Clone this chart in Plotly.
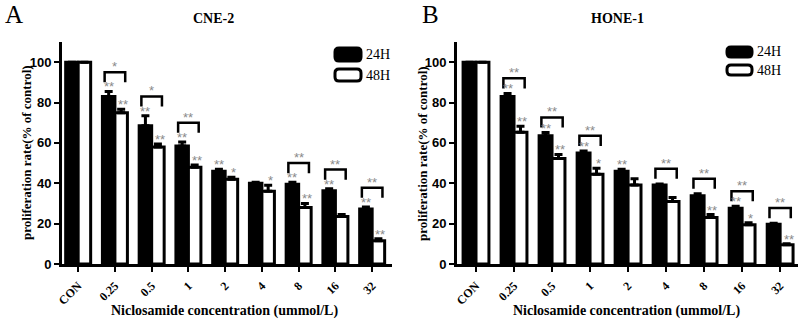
import plotly.graph_objects as go

# ---------------- data ----------------
conc = ["CON", "0.25", "0.5", "1", "2", "4", "8", "16", "32"]

a24 = [100, 83, 68.5, 58.5, 46, 40, 39.5, 36.3, 27.3]
a24_err = [0, 2.5, 5, 2, 1, 0.5, 1, 1, 1]
a48 = [100, 75, 58, 48, 42, 36, 28, 23.5, 11.5]
a48_err = [0, 1.7, 1.5, 1, 1, 3, 2, 1, 1]
a24_sig = ["", "**", "**", "**", "**", "", "**", "**", "**"]
a48_sig = ["", "**", "**", "**", "*", "*", "**", "", "**"]
a_pair = ["", "*", "*", "**", "", "", "**", "**", "**"]

b24 = [100, 83, 63.6, 55, 46, 39.2, 33.8, 27.6, 19.7]
b24_err = [0, 1.5, 1.5, 1, 1, 0.5, 1, 1, 0.5]
b48 = [100, 65.3, 52.3, 44.5, 39.2, 31, 23, 19.5, 9.5]
b48_err = [0, 3, 2, 3, 3, 2, 1.5, 1, 0.5]
b24_sig = ["", "**", "**", "**", "**", "", "", "**", ""]
b48_sig = ["", "**", "**", "*", "", "", "**", "*", "**"]
b_pair = ["", "**", "**", "**", "", "**", "**", "**", "**"]

series_names = ["24H", "48H"]
x_title = "Niclosamide concentration (ummol/L)"
y_title = "proliferation rate(% of control)"

# ---------------- figure ----------------
W, H = 805, 319
SERIF = "Liberation Serif, Times New Roman, serif"
SANS = "Liberation Sans, Arial, sans-serif"
STAR = "#8a8a8a"
BW = 0.34


def px(x):
    return x / W


def py(y):
    return 1 - y / H


fig = go.Figure()

panels = [
    dict(v24=a24, e24=a24_err, v48=a48, e48=a48_err, s24=a24_sig, s48=a48_sig,
         pair=a_pair, xa="x", ya="y", off=9.5),
    dict(v24=b24, e24=b24_err, v48=b48, e48=b48_err, s24=b24_sig, s48=b48_sig,
         pair=b_pair, xa="x2", ya="y2", off=7.5),
]

xs = list(range(len(conc)))
annotations = []
shapes = []

for p in panels:
    fig.add_trace(go.Bar(
        x=xs, y=p["v24"], name=series_names[0], width=BW, offset=-BW,
        marker=dict(color="black", line=dict(color="black", width=3)),
        error_y=dict(type="data", array=p["e24"], arrayminus=[0] * len(xs),
                     symmetric=False, color="black", thickness=3, width=4),
        xaxis=p["xa"], yaxis=p["ya"], showlegend=False))
    fig.add_trace(go.Bar(
        x=xs, y=p["v48"], name=series_names[1], width=BW, offset=0,
        marker=dict(color="white", line=dict(color="black", width=3)),
        error_y=dict(type="data", array=p["e48"], arrayminus=[0] * len(xs),
                     symmetric=False, color="black", thickness=3, width=4),
        xaxis=p["xa"], yaxis=p["ya"], showlegend=False))
    for i in xs:
        t24 = p["v24"][i] + p["e24"][i]
        t48 = p["v48"][i] + p["e48"][i]
        if p["s24"][i]:
            annotations.append(dict(x=i - BW / 2, y=t24, xref=p["xa"], yref=p["ya"],
                                    text=p["s24"][i], showarrow=False, yanchor="bottom",
                                    xanchor="center", yshift=-5,
                                    font=dict(family=SANS, size=13, color=STAR)))
        if p["s48"][i]:
            annotations.append(dict(x=i + BW / 2 + 0.05, y=t48, xref=p["xa"], yref=p["ya"],
                                    text=p["s48"][i], showarrow=False, yanchor="bottom",
                                    xanchor="center", yshift=-5,
                                    font=dict(family=SANS, size=13, color=STAR)))
        if p["pair"][i]:
            top = max(t24, t48) + p["off"]
            xl, xr = i - 0.28, i + 0.28
            shapes.append(dict(type="path", xref=p["xa"], yref=p["ya"],
                               path=f"M {xl},{top - 5} L {xl},{top} L {xr},{top} L {xr},{top - 5}",
                               line=dict(color="black", width=2.5)))
            annotations.append(dict(x=i, y=top, xref=p["xa"], yref=p["ya"],
                                    text=p["pair"][i], showarrow=False, yanchor="bottom",
                                    xanchor="center", yshift=-4,
                                    font=dict(family=SANS, size=13, color=STAR)))


def rrect(x0, y0, x1, y1, r, fill):
    # rounded rectangle in pixel coordinates converted to paper
    pts = (f"M {px(x0 + r)},{py(y0)} L {px(x1 - r)},{py(y0)} "
           f"Q {px(x1)},{py(y0)} {px(x1)},{py(y0 + r)} L {px(x1)},{py(y1 - r)} "
           f"Q {px(x1)},{py(y1)} {px(x1 - r)},{py(y1)} L {px(x0 + r)},{py(y1)} "
           f"Q {px(x0)},{py(y1)} {px(x0)},{py(y1 - r)} L {px(x0)},{py(y0 + r)} "
           f"Q {px(x0)},{py(y0)} {px(x0 + r)},{py(y0)} Z")
    return dict(type="path", xref="paper", yref="paper", path=pts,
                fillcolor=fill, line=dict(color="black", width=3))


# legends
for (lx0, lx1, b0, b1, w0, w1) in [(335, 361, 48, 61, 69, 81), (727, 752, 47, 57, 65, 75)]:
    shapes.append(rrect(lx0, b0, lx1, b1, 4, "black"))
    shapes.append(rrect(lx0, w0, lx1, w1, 4, "white"))
    annotations.append(dict(x=px(lx1 + 3), y=py((b0 + b1) / 2), xref="paper", yref="paper",
                            text=series_names[0], showarrow=False, xanchor="left",
                            yanchor="middle",
                            font=dict(family=SERIF, size=14, color="black")))
    annotations.append(dict(x=px(lx1 + 3), y=py((w0 + w1) / 2), xref="paper", yref="paper",
                            text=series_names[1], showarrow=False, xanchor="left",
                            yanchor="middle",
                            font=dict(family=SERIF, size=14, color="black")))

# titles, axis titles and panel letters
annotations += [
    dict(x=px(213), y=py(19), xref="paper", yref="paper", text="<b>CNE-2</b>",
         xanchor="center", yanchor="middle",
         showarrow=False, font=dict(family=SERIF, size=14, color="black")),
    dict(x=px(617), y=py(19), xref="paper", yref="paper", text="<b>HONE-1</b>",
         xanchor="center", yanchor="middle",
         showarrow=False, font=dict(family=SERIF, size=14, color="black")),
    dict(x=px(3), y=py(14), xref="paper", yref="paper", text="A", xanchor="left",
         yanchor="middle",
         showarrow=False, font=dict(family=SERIF, size=25, color="black")),
    dict(x=px(420), y=py(14), xref="paper", yref="paper", text="B", xanchor="left",
         yanchor="middle",
         showarrow=False, font=dict(family=SERIF, size=25, color="black")),
]
for xc_title, xc_ytitle in [(225, 27), (626, 423)]:
    annotations.append(dict(x=px(xc_title), y=py(311), xref="paper", yref="paper",
                            text=f"<b>{x_title}</b>", xanchor="center", yanchor="middle",
                            showarrow=False, font=dict(family=SERIF, size=14, color="black")))
    annotations.append(dict(x=px(xc_ytitle), y=py(153), xref="paper", yref="paper",
                            text=f"<b>{y_title}</b>", textangle=-90,
                            xanchor="center", yanchor="middle",
                            showarrow=False, font=dict(family=SERIF, size=13, color="black")))

xax = dict(tickmode="array", tickvals=xs, ticktext=[f"<b>{c}</b>" for c in conc],
           tickangle=-45, tickfont=dict(family=SERIF, size=12, color="black"),
           ticklabelstandoff=2,
           range=[-0.44, 8.54], showline=True, linecolor="black", linewidth=3,
           ticks="outside", ticklen=5, tickwidth=2, tickcolor="black",
           showgrid=False, zeroline=False, fixedrange=True, automargin=False)
yax = dict(range=[0, 110], tickvals=[0, 20, 40, 60, 80, 100],
           ticktext=[f"<b>{v}</b>" for v in [0, 20, 40, 60, 80, 100]],
           tickfont=dict(family=SANS, size=13, color="black"),
           showline=True, linecolor="black", linewidth=3,
           ticks="outside", ticklen=5, tickwidth=2, tickcolor="black",
           showgrid=False, zeroline=False, fixedrange=True, automargin=False)

fig.update_layout(
    width=W, height=H, margin=dict(l=0, r=0, t=0, b=0, autoexpand=False),
    paper_bgcolor="white", plot_bgcolor="white",
    xaxis=dict(xax, domain=[px(62), px(392)], anchor="y"),
    yaxis=dict(yax, domain=[py(264), py(42)], anchor="x"),
    xaxis2=dict(xax, domain=[px(457), px(798)], anchor="y2", range=[-0.5, 8.47]),
    yaxis2=dict(yax, domain=[py(264), py(42)], anchor="x2"),
    shapes=shapes, annotations=annotations, showlegend=False,
)

fig.write_html("out.html", config={"displayModeBar": False},
               post_script="document.body.style.margin='0';document.body.style.overflow='hidden';")
